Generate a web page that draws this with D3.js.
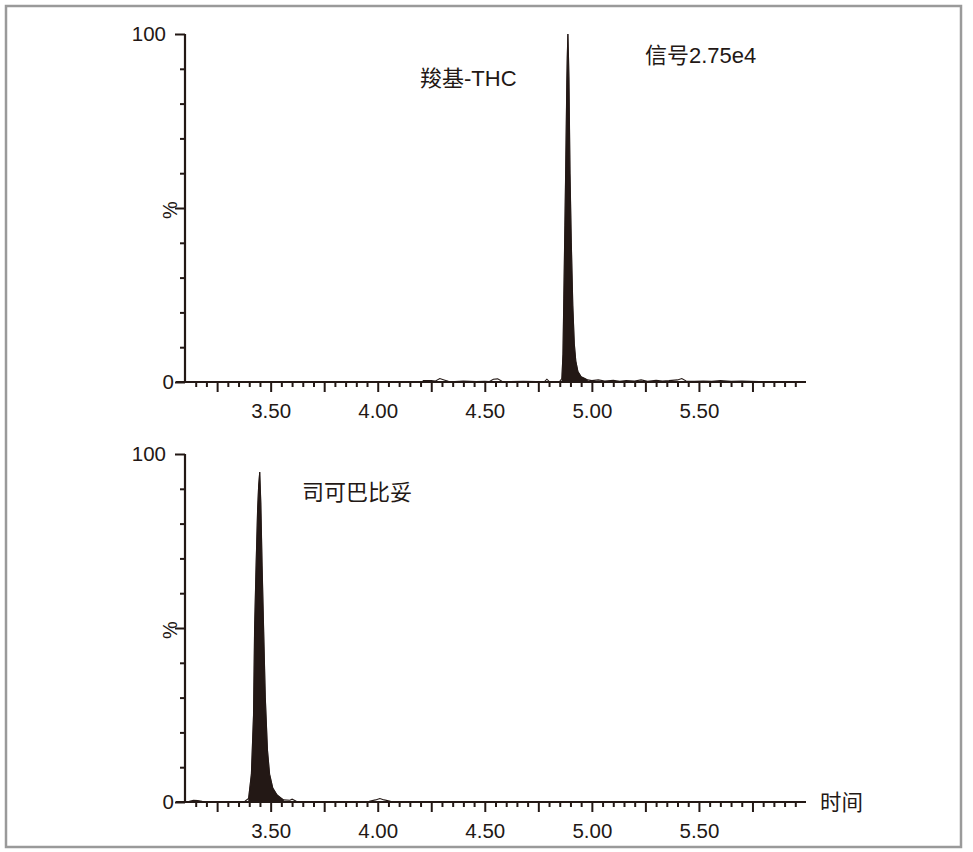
<!DOCTYPE html>
<html>
<head>
<meta charset="utf-8">
<script src="https://cdn.jsdelivr.net/npm/d3@7"></script>
<style>
  html, body { margin: 0; padding: 0; background: #fff; }
  svg { display: block; }
  text { font-family: "Liberation Sans", Arial, "Noto Sans CJK SC", sans-serif; fill: #231815; }
</style>
</head>
<body>
<svg id="chart" width="973" height="852"></svg>
<script>
// ---------- data ----------
const topLabel = "羧基-THC";
const signalLabel = "信号2.75e4";
const bottomLabel = "司可巴比妥";
const timeLabel = "时间";
const yLabel = "%";

const xTickLabels = ["3.50", "4.00", "4.50", "5.00", "5.50"];
const yTickLabels = ["0", "100"];

// carboxy-THC trace (time, min / relative intensity, %)
const topTimes = [4.21,4.25,4.27,4.29,4.31,4.33,4.36,4.40,4.43,4.46,4.50,4.52,4.54,4.56,4.58,4.62,4.68,4.74,4.78,4.79,4.80,4.82,4.85,
  4.860,4.865,4.869,4.874,4.878,4.883,4.885,4.888,4.891,4.893,4.898,4.904,4.911,4.918,4.925,4.935,4.950,4.967,4.98,
  5.00,5.03,5.06,5.10,5.13,5.16,5.20,5.23,5.26,5.30,5.33,5.36,5.40,5.42,5.44,5.48,5.52,5.56,5.60,5.65,5.70,5.74,5.78];
const topValues = [0.4,0.4,0.3,1.0,0.6,0.2,0.1,0.3,0.2,0.1,0.2,0.1,0.8,0.9,0.2,0.1,0.2,0.1,0.2,0.8,0.2,0.1,0.2,
  1.0,8,24,45,62,86,93,100,93,87,60,40,22,11,6,3,1.5,1.0,0.6,
  0.4,0.6,0.3,0.5,0.2,0.4,0.3,0.6,0.2,0.5,0.3,0.4,0.6,1.0,0.3,0.2,0.3,0.2,0.4,0.2,0.3,0.2,0.1];
const topPeakWindow = [4.855, 4.99];

// secobarbital trace
const bottomTimes = [3.12,3.14,3.16,3.18,3.22,3.28,3.34,3.38,3.397,3.41,3.42,3.425,3.432,3.439,3.444,3.449,3.454,3.46,3.467,3.475,3.485,3.495,3.51,3.53,3.56,
  3.59,3.60,3.62,3.70,3.80,3.90,3.96,3.99,4.01,4.03,4.06,4.15,4.30,4.50,4.80,5.10,5.40,5.70,5.95];
const bottomValues = [0.2,0.5,0.4,0.2,0.1,0.1,0.1,0.2,1,8,25,50,68,84,91,94.8,86,68,50,30,15,8,4,2,0.6,
  0.5,0.8,0.2,0.1,0.1,0.1,0.2,0.6,1.0,0.6,0.2,0.1,0.1,0.1,0.1,0.1,0.1,0.1,0.1];
const bottomPeakWindow = [3.39, 3.57];

// ---------- drawing ----------
const ink = "#231815";
const svg = d3.select("#chart");

svg.append("rect").attr("x", 6).attr("y", 6).attr("width", 955).attr("height", 841)
  .attr("fill", "none").attr("stroke", "#9a9a9a").attr("stroke-width", 2.5);

const x = d3.scaleLinear().domain([3.10, 6.00]).range([185, 806]);

function panel(y0, y1, times, values, win, showTime) {
  const y = d3.scaleLinear().domain([0, 100]).range([y0, y1]);
  const g = svg.append("g");
  const pts = times.map((t, i) => ({t, v: values[i]}));

  // filled peak
  const area = d3.area().x(d => x(d.t)).y0(y(0)).y1(d => y(d.v))
    .defined(d => d.t >= win[0] && d.t <= win[1]);
  g.append("path").datum(pts).attr("d", area).attr("fill", ink).attr("stroke", ink).attr("stroke-width", 0.6);
  // trace line
  const line = d3.line().x(d => x(d.t)).y(d => y(d.v));
  g.append("path").datum(pts).attr("d", line).attr("fill", "none").attr("stroke", ink).attr("stroke-width", 1.1);

  // x axis: minor ticks every 0.05, major every 0.25
  const minor = d3.range(63, 120).map(k => k * 0.05).filter(t => Math.abs((t / 0.25) - Math.round(t / 0.25)) > 1e-6);
  const major = d3.range(13, 24).map(k => k * 0.25);
  const xa = g.append("g").attr("transform", `translate(0,${y0})`);
  xa.call(d3.axisBottom(x).tickValues(minor).tickSize(5).tickFormat(""));
  xa.append("g").call(d3.axisBottom(x).tickValues(major).tickSize(10)
    .tickFormat(d => xTickLabels.find(s => Math.abs(+s - d) < 1e-6) || ""));
  xa.selectAll(".domain").remove();
  xa.selectAll("line").attr("stroke", ink).attr("stroke-width", 2);
  xa.selectAll("text").attr("font-size", 20.5).attr("dy", "0.71em").attr("y", 21).style("fill", ink);
  g.append("line").attr("x1", x(3.10) - 9).attr("x2", 806).attr("y1", y0).attr("y2", y0)
    .attr("stroke", ink).attr("stroke-width", 2.2);

  // y axis
  const ya = g.append("g").attr("transform", `translate(${x(3.10)},0)`);
  ya.call(d3.axisLeft(y).tickValues(d3.range(10, 100, 10).filter(v => v !== 50)).tickSize(5).tickFormat(""));
  ya.append("g").call(d3.axisLeft(y).tickValues([0, 50, 100]).tickSize(10)
    .tickFormat(d => yTickLabels.find(s => +s === d) || ""));
  ya.selectAll(".domain").remove();
  ya.selectAll("line").attr("stroke", ink).attr("stroke-width", 2);
  ya.selectAll("text").attr("font-size", 20.5).attr("x", d => d === 100 ? -19 : -11).style("fill", ink);
  g.append("line").attr("x1", x(3.10)).attr("x2", x(3.10)).attr("y1", y1).attr("y2", y0)
    .attr("stroke", ink).attr("stroke-width", 2.2);

  g.append("text").text(yLabel).attr("font-size", 20).attr("text-anchor", "middle")
    .attr("transform", `translate(${x(3.10) - 8},${y(50) + 2}) rotate(-90)`);

  if (showTime) {
    g.append("text").text(timeLabel).attr("font-size", 21.5).attr("x", 820).attr("y", y0 + 8);
  }
  return y;
}

panel(382, 34, topTimes, topValues, topPeakWindow, false);
panel(802, 454, bottomTimes, bottomValues, bottomPeakWindow, true);

svg.append("text").text(topLabel).attr("font-size", 22).attr("x", 420).attr("y", 86);
svg.append("text").text(signalLabel).attr("font-size", 22).attr("x", 645).attr("y", 63);
svg.append("text").text(bottomLabel).attr("font-size", 22).attr("x", 302).attr("y", 500);
</script>
</body>
</html>
